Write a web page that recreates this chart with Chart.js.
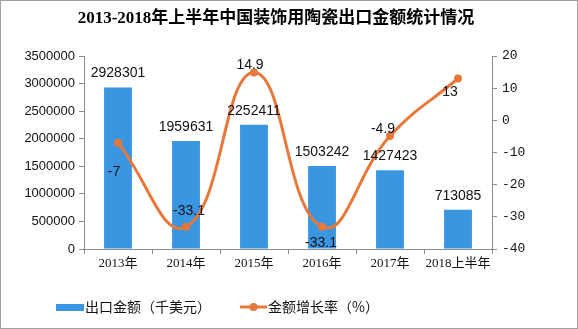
<!DOCTYPE html>
<html>
<head>
<meta charset="utf-8">
<script src="https://cdn.jsdelivr.net/npm/chart.js@4/dist/chart.umd.min.js"></script>
<style>
  html, body { margin: 0; padding: 0; background: #fff; }
  canvas { display: block; }
</style>
</head>
<body>
<canvas id="chart" width="578" height="329"></canvas>
<script>
// data
const years = ['2013年', '2014年', '2015年', '2016年', '2017年', '2018上半年'];
const exportValue = [2928301, 1959631, 2252411, 1503242, 1427423, 713085];
const growthRate = [-7, -33.1, 14.9, -33.1, -4.9, 13];
const leftTicks = [0, 500000, 1000000, 1500000, 2000000, 2500000, 3000000, 3500000];
const rightTicks = [-40, -30, -20, -10, 0, 10, 20];

const titleText = '2013-2018年上半年中国装饰用陶瓷出口金额统计情况';
const barName = '出口金额（千美元）';
const lineName = '金额增长率（%）';

const blue = '#3a96e0';
const orange = '#e8783a';
const axisGray = '#8c8c8c';
const cjk = '"Noto Sans CJK SC"';

// where each growth label sits relative to its point
const rateLabelShift = [[-4, 29], [3, -16], [-4, -7], [-1, 16], [-7, -7], [-8, 14]];

const extras = {
  id: 'extras',
  afterDatasetsDraw(c) {
    const ctx = c.ctx;
    ctx.save();
    ctx.textAlign = 'center';
    ctx.textBaseline = 'middle';
    ctx.fillStyle = '#111';
    ctx.font = '14px "Liberation Sans"';
    c.getDatasetMeta(0).data.forEach((bar, i) => {
      ctx.fillText(String(exportValue[i]), bar.x, bar.y - 14);
    });
    c.getDatasetMeta(1).data.forEach((pt, i) => {
      const s = rateLabelShift[i];
      ctx.fillText(String(growthRate[i]), pt.x + s[0], pt.y + s[1]);
    });
    ctx.restore();
  },
  afterDraw(c) {
    const ctx = c.ctx;
    ctx.save();
    // frame
    ctx.strokeStyle = '#a0a0a0';
    ctx.lineWidth = 1;
    ctx.strokeRect(0.5, 0.5, 577, 328);
    // title
    ctx.fillStyle = '#000';
    ctx.textAlign = 'center';
    ctx.textBaseline = 'middle';
    ctx.font = 'bold 17px "Liberation Serif", ' + cjk;
    ctx.fillText(titleText, 276, 19);
    // legend
    ctx.textAlign = 'left';
    ctx.font = '14px ' + cjk;
    ctx.fillStyle = blue;
    ctx.fillRect(56, 304, 28, 7);
    ctx.fillStyle = '#111';
    ctx.fillText(barName, 85, 307);
    ctx.strokeStyle = orange;
    ctx.lineWidth = 3;
    ctx.beginPath();
    ctx.moveTo(240, 307);
    ctx.lineTo(267, 307);
    ctx.stroke();
    ctx.fillStyle = orange;
    ctx.beginPath();
    ctx.arc(253.5, 307, 4, 0, Math.PI * 2);
    ctx.fill();
    ctx.fillStyle = '#111';
    ctx.fillText(lineName, 268, 307);
    ctx.restore();
  }
};

const axisGrid = {
  display: true,
  drawOnChartArea: false,
  tickLength: 5,
  color: axisGray
};

new Chart(document.getElementById('chart').getContext('2d'), {
  data: {
    labels: years,
    datasets: [
      {
        type: 'bar',
        label: barName,
        data: exportValue,
        backgroundColor: blue,
        yAxisID: 'y',
        categoryPercentage: 1,
        barPercentage: 0.41,
        order: 1
      },
      {
        type: 'line',
        label: lineName,
        data: growthRate,
        borderColor: orange,
        backgroundColor: orange,
        borderWidth: 3,
        tension: 0.45,
        pointRadius: 4,
        pointBorderWidth: 0,
        pointBackgroundColor: orange,
        yAxisID: 'y1',
        order: 0
      }
    ]
  },
  plugins: [extras],
  options: {
    responsive: false,
    animation: false,
    devicePixelRatio: 1,
    layout: { padding: { top: 56, bottom: 55, left: 0, right: 0 } },
    plugins: {
      legend: { display: false },
      title: { display: false },
      tooltip: { enabled: false }
    },
    scales: {
      x: {
        grid: Object.assign({ offset: true }, axisGrid),
        border: { color: axisGray },
        ticks: {
          color: '#111',
          padding: 2,
          maxRotation: 0,
          minRotation: 0,
          autoSkip: false,
          font: { family: '"Liberation Serif", ' + cjk, size: 13 }
        },
        afterFit: s => { s.height = 25; }
      },
      y: {
        position: 'left',
        min: leftTicks[0],
        max: leftTicks[leftTicks.length - 1],
        ticks: {
          stepSize: leftTicks[1] - leftTicks[0],
          color: '#111',
          padding: 4,
          callback: v => String(v),
          font: { family: '"Liberation Sans"', size: 13 }
        },
        grid: axisGrid,
        border: { color: axisGray },
        afterFit: s => { s.width = 84; }
      },
      y1: {
        position: 'right',
        min: rightTicks[0],
        max: rightTicks[rightTicks.length - 1],
        ticks: {
          stepSize: rightTicks[1] - rightTicks[0],
          color: '#111',
          padding: 5,
          callback: v => String(v),
          font: { family: '"Liberation Mono"', size: 13 }
        },
        grid: axisGrid,
        border: { color: axisGray },
        afterFit: s => { s.width = 86; }
      }
    }
  }
});
</script>
</body>
</html>
